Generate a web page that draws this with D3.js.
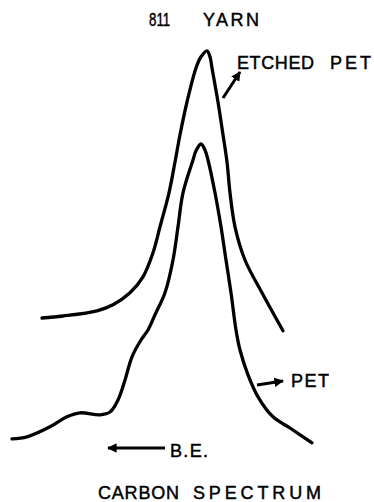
<!DOCTYPE html>
<html>
<head>
<meta charset="utf-8">
<script src="https://cdn.jsdelivr.net/npm/d3@7"></script>
<style>
  html, body { margin: 0; padding: 0; background: #fff; }
  svg { display: block; }
  text { font-family: "Liberation Sans", Arial, sans-serif; fill: #000; stroke: #000; stroke-width: 0.45px; }
</style>
</head>
<body>
<script>
// Binding energy (eV, relative scale) and intensity (arbitrary units)
const etchedBE = [293.32, 292.48, 291.12, 290.48, 289.80, 289.28, 288.88, 288.60, 288.24, 288.00,
                  287.80, 287.52, 287.16, 286.96, 286.72, 286.60, 286.52, 286.28, 286.08, 285.92,
                  285.80, 285.60, 285.20, 284.52, 283.68];
const etchedI  = [33.0, 33.5, 34.8, 36.3, 39.3, 43.3, 49.3, 55.8, 64.3, 72.0,
                  78.8, 87.0, 95.5, 98.3, 99.8, 98.3, 95.5, 87.0, 78.8, 72.0,
                  64.3, 55.8, 47.5, 39.3, 29.8];

const petBE = [294.52, 293.92, 293.00, 292.32, 291.80, 291.00, 290.60, 290.28, 290.00, 289.72,
               289.36, 289.08, 288.80, 288.40, 288.08, 287.88, 287.68, 287.28, 287.16, 286.96,
               286.80, 286.68, 286.40, 286.16, 285.96, 285.76, 285.56, 285.40, 285.08, 284.68,
               284.08, 283.40, 282.52];
const petI  = [2.8, 3.3, 5.8, 8.3, 9.3, 8.8, 9.5, 12.5, 17.5, 23.3,
               27.5, 30.0, 33.8, 39.3, 47.5, 55.8, 64.3, 72.5, 74.8, 76.5,
               75.0, 72.5, 64.3, 55.8, 47.5, 39.3, 30.0, 25.0, 18.8, 13.3,
               8.3, 5.5, 1.8];

const titleWords = ["811", "YARN"];
const seriesLabels = ["ETCHED PET", "PET"];
const axisLabel = "B.E.";
const captionWords = ["CARBON", "SPECTRUM"];

const W = 374, H = 502;
const svg = d3.select("body").append("svg").attr("width", W).attr("height", H);
svg.append("rect").attr("width", W).attr("height", H).attr("fill", "#fff");

// reversed binding energy axis (B.E. increases to the left)
const x = d3.scaleLinear().domain([295, 280]).range([0, 375]);
const y = d3.scaleLinear().domain([0, 100]).range([450, 50]);

const line = d3.line().x(d => x(d[0])).y(d => y(d[1])).curve(d3.curveCatmullRom.alpha(0.5));

const etched = etchedBE.map((b, i) => [b, etchedI[i]]).sort((a, b) => x(a[0]) - x(b[0]));
const pet = petBE.map((b, i) => [b, petI[i]]).sort((a, b) => x(a[0]) - x(b[0]));

[etched, pet].forEach(d => {
  svg.append("path").datum(d).attr("d", line)
    .attr("fill", "none").attr("stroke", "#000")
    .attr("stroke-width", 3.3).attr("stroke-linecap", "round").attr("stroke-linejoin", "round");
});

// arrowhead marker
svg.append("defs").append("marker")
  .attr("id", "ah").attr("viewBox", "0 0 10 10").attr("refX", 9).attr("refY", 5)
  .attr("markerWidth", 3.2).attr("markerHeight", 3.2).attr("markerUnits", "strokeWidth")
  .attr("orient", "auto")
  .append("path").attr("d", "M0,0 L10,5 L0,10 Z").attr("fill", "#000");

// annotation arrows in data space [tail, tip]
const arrows = [
  [[286.08, 88.0], [285.40, 94.5]],
  [[284.72, 16.25], [283.68, 17.25]],
  [[288.40, 0.5], [290.68, 0.5]]
];
arrows.forEach(a => {
  svg.append("line")
    .attr("x1", x(a[0][0])).attr("y1", y(a[0][1]))
    .attr("x2", x(a[1][0])).attr("y2", y(a[1][1]))
    .attr("stroke", "#000").attr("stroke-width", 3).attr("marker-end", "url(#ah)");
});

function label(txt, xPos, base, len) {
  svg.append("text").attr("x", xPos).attr("y", base)
    .attr("font-size", 18)
    .attr("textLength", len).attr("lengthAdjust", "spacing")
    .text(txt);
}

// "811" drawn with narrow lettering: horizontally condensed
svg.append("text")
  .attr("transform", "translate(149,26) scale(0.74,1)")
  .attr("font-size", 18)
  .text(titleWords[0]);
label(titleWords[1], 203, 26, 56);
const [w1, w2] = seriesLabels[0].split(" ");
label(w1, 237, 69, 77);
label(w2, 330, 69, 41);
label(seriesLabels[1], 291, 387, 38);
label(axisLabel, 170, 457, 38);
label(captionWords[0], 98, 499, 81);
label(captionWords[1], 193, 499, 128);
</script>
</body>
</html>
